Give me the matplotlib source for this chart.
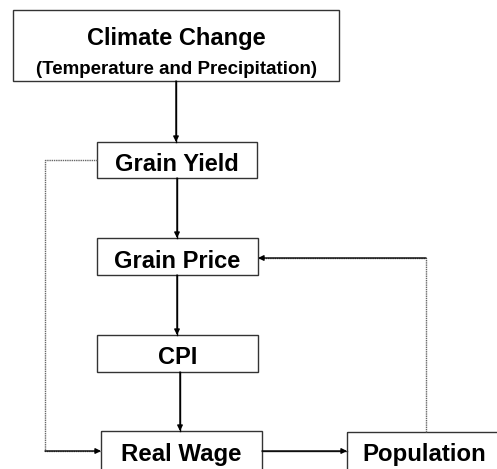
import matplotlib.pyplot as plt
from matplotlib.patches import Rectangle

plt.rcParams['font.family'] = ['Liberation Sans', 'DejaVu Sans']

# boxes: label, (x0, y0, x1, y1) in pixel coords (y down)
labels = ['Climate Change', 'Grain Yield', 'Grain Price', 'CPI', 'Real Wage', 'Population']
boxes = [(13, 10, 339, 81), (97, 142, 257, 178), (97, 238, 258, 275),
         (97, 335, 258, 372), (101, 431, 262, 480), (347, 432, 505, 480)]
subtitle = '(Temperature and Precipitation)'

fig = plt.figure(figsize=(4.97, 4.69), dpi=100)
ax = fig.add_axes([0, 0, 1, 1])
ax.set_xlim(0, 497); ax.set_ylim(469, 0); ax.axis('off')

for i, (lab, (x0, y0, x1, y1)) in enumerate(zip(labels, boxes)):
    ax.add_patch(Rectangle((x0, y0), x1 - x0, y1 - y0, fill=False,
                           ec='#333333', lw=1.0))
    cx = (x0 + x1) / 2
    if i == 0:
        ax.text(cx, 38, lab, ha='center', va='center', fontsize=17, fontweight='bold')
        ax.text(cx, 69.5, subtitle, ha='center', va='center', fontsize=13.5, fontweight='bold')
    elif i >= 4:
        ax.text(cx + (0 if i == 4 else -2), 454.5, lab, ha='center', va='center',
                fontsize=17.3, fontweight='bold')
    else:
        ax.text(cx, (y0 + y1) / 2 + 4.5, lab, ha='center', va='center',
                fontsize=17, fontweight='bold')

def arrow(pts, color='black', ls='-'):
    xs, ys = zip(*pts)
    ax.plot(xs, ys, color=color, lw=1.0, ls=ls)
    ax.annotate('', xy=pts[-1], xytext=pts[-2],
                arrowprops=dict(arrowstyle='-|>', color='black', lw=1.0,
                                mutation_scale=8, shrinkA=0, shrinkB=0))

# vertical chain
arrow([(176, 81), (176, 142)])
arrow([(177, 178), (177, 238)])
arrow([(177, 275), (177, 335)])
arrow([(180, 372), (180, 431)])
# left loop: Grain Yield -> Real Wage
arrow([(97, 160), (45, 160), (45, 451), (101, 451)], color='#666666', ls=(0, (1, 0.6)))
# Real Wage -> Population
arrow([(262, 451), (347, 451)], color='#333333')
# Population -> Grain Price
arrow([(426, 432), (426, 258), (258, 258)], color='#666666', ls=(0, (1, 0.6)))

fig.savefig('out.png', dpi=100)
